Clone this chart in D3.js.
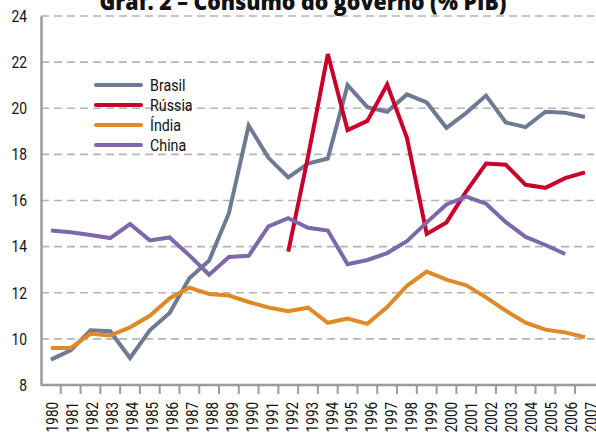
<!DOCTYPE html>
<html>
<head>
<meta charset="utf-8">
<script src="https://cdn.jsdelivr.net/npm/d3@7"></script>
<style>
  body { margin: 0; background: #fff; }
  svg text { font-family: "Liberation Sans Narrow", "Roboto", sans-serif; fill: #111; }
</style>
</head>
<body>
<div id="chart"></div>
<script>

// anos no eixo x
var years = [1980, 1981, 1982, 1983, 1984, 1985, 1986, 1987, 1988, 1989,
             1990, 1991, 1992, 1993, 1994, 1995, 1996, 1997, 1998, 1999,
             2000, 2001, 2002, 2003, 2004, 2005, 2006, 2007];

// consumo do governo (% PIB)
var brasil = [9.1, 9.5, 10.37, 10.33, 9.17, 10.37, 11.12, 12.63, 13.4, 15.45,
              19.25, 17.85, 17.0, 17.6, 17.82, 21.0, 20.05, 19.85, 20.6, 20.25,
              19.15, 19.8, 20.55, 19.38, 19.18, 19.85, 19.8, 19.62];
var russia = [null, null, null, null, null, null, null, null, null, null,
              null, null, 13.78, 17.9, 22.35, 19.05, 19.45, 21.03, 18.72, 14.55,
              15.05, 16.4, 17.6, 17.55, 16.68, 16.55, 16.97, 17.22];
var india =  [9.6, 9.6, 10.22, 10.15, 10.5, 11.0, 11.75, 12.22, 11.95, 11.88,
              11.6, 11.36, 11.2, 11.35, 10.7, 10.88, 10.65, 11.38, 12.3, 12.92,
              12.57, 12.32, 11.8, 11.22, 10.7, 10.4, 10.28, 10.07];
var china =  [14.7, 14.62, 14.5, 14.37, 14.98, 14.27, 14.4, 13.62, 12.78, 13.55,
              13.6, 14.88, 15.23, 14.82, 14.7, 13.24, 13.42, 13.72, 14.24, 15.05,
              15.83, 16.17, 15.86, 15.06, 14.42, 14.07, 13.68, null];

var seriesNames = ["Brasil", "Rússia", "Índia", "China"];
var seriesValues = [brasil, russia, india, china];
var seriesColors = ["#6e7a91", "#c9002c", "#df8a28", "#7c68aa"];

var yTicks = [8, 10, 12, 14, 16, 18, 20, 22, 24];

var width = 596;
var height = 432;
var margin = {top: 16, right: 2, bottom: 47, left: 41};
// fonte condensada simulada
var narrow = 0.84;

var svg = d3.select("#chart").append("svg")
    .attr("width", width)
    .attr("height", height);

var xScale = d3.scaleBand()
    .domain(years)
    .range([margin.left, margin.left + 19.78 * years.length]);

var yScale = d3.scaleLinear()
    .domain([8, 24])
    .range([height - margin.bottom, margin.top]);

// linhas de grade tracejadas
svg.append("g")
    .selectAll("line")
    .data(yTicks.filter(function(d){ return d > 8; }))
    .enter()
    .append("line")
    .attr("x1", margin.left)
    .attr("x2", 594)
    .attr("y1", function(d){ return yScale(d); })
    .attr("y2", function(d){ return yScale(d); })
    .attr("stroke", "#b4b4b4")
    .attr("stroke-width", 1.6)
    .attr("stroke-dasharray", "8,5");

// eixo y
var yAxis = d3.axisLeft(yScale)
    .tickValues(yTicks)
    .tickSize(0)
    .tickPadding(12);

svg.append("g")
    .attr("class", "axis y-axis")
    .attr("transform", "translate(" + margin.left + ",0)")
    .call(yAxis)
    .call(function(g){
        g.select(".domain").attr("stroke", "#9b9b9b").attr("stroke-width", 2.5);
        g.selectAll("text")
            .attr("font-size", 16.5)
            .attr("fill", "#111")
            .attr("x", -14 / narrow)
            .attr("transform", "scale(" + narrow + ",1)");
    });

// eixo x: tiques nas bordas das faixas
var xAxisY = yScale(8);

svg.append("line")
    .attr("x1", margin.left)
    .attr("x2", width)
    .attr("y1", xAxisY)
    .attr("y2", xAxisY)
    .attr("stroke", "#9b9b9b")
    .attr("stroke-width", 2.5);

svg.append("g")
    .selectAll("line")
    .data(years.slice(1))
    .enter()
    .append("line")
    .attr("x1", function(d){ return xScale(d); })
    .attr("x2", function(d){ return xScale(d); })
    .attr("y1", xAxisY)
    .attr("y2", xAxisY + 9)
    .attr("stroke", "#9b9b9b")
    .attr("stroke-width", 2);

svg.append("g")
    .selectAll("text")
    .data(years)
    .enter()
    .append("text")
    .attr("transform", function(d, i){
        var x = xScale(d) + xScale.bandwidth() / 2 + 2 + i * 0.15;
        return "translate(" + x + "," + (xAxisY + 17) + ") rotate(-90) scale(" + narrow + ",1)";
    })
    .attr("text-anchor", "end")
    .attr("dy", "0.35em")
    .attr("font-size", 16)
    .text(function(d){ return d; });

// linhas das series
var line = d3.line()
    .defined(function(d){ return d.v != null; })
    .x(function(d){ return xScale(d.year) + xScale.bandwidth() / 2; })
    .y(function(d){ return yScale(d.v); });

seriesValues.forEach(function(vals, k){
    var pts = years.map(function(y, i){ return {year: y, v: vals[i]}; });
    svg.append("path")
        .datum(pts)
        .attr("d", line)
        .attr("fill", "none")
        .attr("stroke", seriesColors[k])
        .attr("stroke-width", 4)
        .attr("stroke-linejoin", "miter");
});

// legenda
var legend = svg.append("g")
    .attr("class", "legend");

seriesNames.forEach(function(name, i){
    var ly = 85 + i * 20;
    legend.append("line")
        .attr("x1", 96)
        .attr("x2", 141)
        .attr("y1", ly)
        .attr("y2", ly)
        .attr("stroke", seriesColors[i])
        .attr("stroke-width", 4)
        .attr("stroke-linecap", "round");
    legend.append("text")
        .attr("transform", "translate(150," + (ly + 6) + ") scale(" + narrow + ",1)")
        .attr("font-size", 17)
        .text(name);
});

// titulo (cortado no topo, como no original)
svg.append("text")
    .attr("x", 303)
    .attr("y", 10)
    .attr("text-anchor", "middle")
    .attr("font-weight", 800)
    .attr("font-size", 22)
    .attr("textLength", 407)
    .attr("lengthAdjust", "spacingAndGlyphs")
    .style("font-family", "'Open Sans', 'DejaVu Sans', sans-serif")
    .text("Graf. 2 – Consumo do governo (% PIB)");

</script>
</body>
</html>
